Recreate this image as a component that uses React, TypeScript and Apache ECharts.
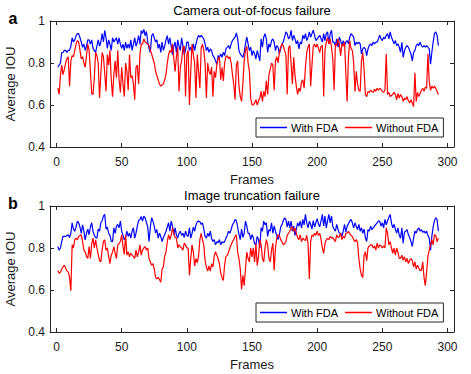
import React, { useEffect, useRef } from "react";
import * as echarts from "echarts";

const frameTicks = [0, 50, 100, 150, 200, 250, 300];
const iouTicks = [0.4, 0.6, 0.8, 1];
const seriesNames = ["With FDA", "Without FDA"];
const panelTitles = ["Camera out-of-focus failure", "Image truncation failure"];
const panelLetters = ["a", "b"];
const xLabel = "Frames";
const yLabel = "Average IOU";

// Panel a: camera out-of-focus failure (frames 1..293)
const focusWithFDA = [
  .78,.79,.80,.85,.85,.86,.86,.85,.86,.86,
  .88,.92,.90,.91,.93,.94,.94,.92,.90,.875,
  .89,.86,.88,.91,.91,.89,.91,.87,.86,.85,
  .88,.91,.88,.90,.94,.90,.955,.92,.87,.91,
  .89,.86,.92,.90,.91,.92,.89,.92,.89,.87,
  .89,.86,.90,.87,.89,.87,.91,.86,.89,.92,
  .88,.90,.93,.89,.955,.94,.96,.93,.95,.90,
  .87,.85,.93,.94,.92,.90,.91,.87,.89,.85,
  .90,.86,.88,.91,.93,.89,.92,.88,.84,.88,
  .90,.85,.91,.88,.86,.92,.88,.84,.86,.90,
  .899,.859,.875,.851,.891,.859,.891,.915,.932,.923,
  .932,.923,.915,.891,.859,.875,.851,.867,.859,.835,
  .827,.81,.794,.835,.827,.843,.827,.851,.835,.867,
  .875,.883,.867,.891,.907,.915,.923,.943,.915,.859,
  .843,.835,.827,.851,.891,.923,.891,.859,.875,.835,
  .859,.843,.819,.859,.835,.81,.915,.875,.923,.94,
  .915,.851,.891,.875,.907,.915,.899,.859,.883,.875,
  .843,.867,.891,.899,.923,.948,.94,.915,.923,.956,
  .907,.932,.915,.891,.907,.867,.899,.891,.932,.915,
  .94,.907,.923,.948,.923,.94,.956,.932,.907,.915,
  .923,.932,
  .915,.90,.94,.907,.94,.948,.891,.94,.956,.899,
  .899,.883,.915,.875,.923,.907,.883,.907,.883,.899,
  .907,.891,.923,.94,.932,.923,.883,.899,.891,.899,
  .891,.843,.867,.875,.867,.835,.867,.883,.891,.883,
  .899,.891,.899,.899,.915,.932,.915,.907,.923,.915,
  .932,.94,.915,.948,.923,.907,.891,.907,.883,.891,
  .875,.851,.899,.827,.859,.875,.883,.875,.859,.843,
  .81,.851,.859,.883,.891,.883,.899,.883,.875,.883,
  .875,.883,.875,.867,.794,.851,.899,.94,.948,.932,
  .883,
];
const focusWithoutFDA = [
  .68,.65,.74,.79,.745,.77,.80,.82,.83,.69,
  .81,.835,.83,.86,.89,.907,.90,.86,.82,.83,
  .80,.78,.835,.89,.86,.76,.655,.65,.73,.85,
  .835,.80,.633,.745,.85,.83,.75,.665,.84,.79,
  .86,.72,.64,.745,.81,.73,.86,.72,.66,.78,
  .70,.64,.80,.76,.67,.84,.73,.74,.70,.625,
  .78,.79,.70,.84,.89,.89,.915,.90,.895,.89,
  .883,.86,.843,.82,.80,.762,.74,.72,.70,.69,
  .695,.70,.72,.746,.80,.84,.86,.85,.89,.82,
  .76,.83,.875,.665,.78,.81,.875,.88,.64,.84,
  .86,.60,.76,.89,.84,.80,.633,.84,.76,.68,
  .87,.89,.86,.80,.633,.80,.76,.745,.78,.64,
  .76,.73,.79,.82,.83,.72,.78,.715,.80,.83,
  .835,.82,.83,.80,.745,.70,.625,.79,.81,.69,
  .64,.617,.70,.81,.86,.88,.80,.76,.633,.60,
  .60,.61,.625,.60,.62,.633,.665,.617,.665,.64,
  .715,.65,.745,.77,.80,.79,.67,.81,.83,.80,
  .85,.875,.89,.883,.86,.84,.65,.87,.883,.80,
  .70,.827,.74,.69,.65,.68,.665,.71,.72,.68,
  .78,.85,.875,.89,.69,.79,.88,.89,.875,.89,
  .87,.85,
  .88,.883,.64,.86,.90,.92,.89,.915,.875,.82,
  .67,.89,.883,.915,.89,.835,.89,.88,.90,.75,
  .617,.827,.907,.867,.86,.80,.665,.76,.70,.67,
  .665,.81,.85,.77,.65,.64,.665,.66,.67,.665,
  .66,.675,.665,.68,.67,.68,.673,.665,.66,.67,
  .843,.65,.66,.64,.645,.65,.66,.65,.625,.655,
  .633,.65,.64,.617,.633,.625,.64,.62,.61,.625,
  .61,.593,.754,.617,.66,.64,.655,.67,.68,.665,
  .685,.68,.843,.71,.67,.69,.68,.69,.68,.665,
  .65,
];

// Panel b: image truncation failure (frames 1..293)
const truncWithFDA = [
  .807,.79,.80,.83,.855,.855,.855,.86,.863,.85,
  .87,.92,.89,.88,.90,.928,.92,.90,.87,.91,
  .88,.839,.87,.89,.863,.90,.92,.88,.86,.85,
  .847,.89,.88,.92,.93,.952,.96,.89,.90,.87,
  .86,.831,.83,.896,.87,.904,.912,.896,.928,.88,
  .86,.839,.85,.88,.855,.871,.847,.88,.896,.847,
  .871,.904,.93,.936,.95,.928,.952,.944,.92,.90,
  .831,.90,.944,.928,.904,.871,.888,.847,.871,.855,
  .831,.85,.863,.88,.90,.92,.88,.928,.904,.863,
  .896,.863,.847,.87,.88,.86,.87,.85,.88,.86,
  .855,.896,.847,.87,.90,.88,.91,.925,.928,.925,
  .912,.92,.89,.855,.847,.87,.855,.88,.845,.831,
  .84,.815,.83,.825,.84,.815,.83,.825,.83,.847,
  .86,.88,.87,.888,.91,.92,.936,.93,.90,.865,
  .84,.89,.85,.87,.928,.905,.87,.87,.84,.863,
  .85,.82,.815,.855,.84,.80,.896,.88,.928,.91,
  .92,.855,.888,.88,.92,.87,.905,.88,.86,.84,
  .863,.90,.91,.93,.944,.936,.90,.928,.896,.928,
  .88,.904,.86,.89,.92,.904,.928,.896,.936,.91,
  .96,.92,.896,.928,.912,.89,.93,.90,.92,.94,
  .915,.90,
  .93,.96,.905,.952,.896,.93,.96,.92,.952,.904,
  .89,.88,.912,.888,.871,.87,.855,.88,.912,.875,
  .904,.915,.928,.936,.92,.896,.92,.904,.888,.912,
  .88,.896,.87,.89,.85,.831,.888,.88,.904,.888,
  .896,.904,.912,.92,.928,.928,.904,.92,.896,.936,
  .91,.93,.945,.96,.92,.896,.912,.89,.871,.896,
  .86,.847,.896,.823,.875,.88,.888,.863,.85,.83,
  .807,.847,.88,.871,.888,.896,.88,.888,.875,.88,
  .871,.88,.86,.847,.79,.855,.90,.93,.944,.936,
  .88,
];
const truncWithoutFDA = [
  .693,.68,.685,.70,.71,.718,.705,.69,.685,.66,
  .596,.815,.80,.84,.847,.839,.855,.86,.863,.83,
  .79,.782,.76,.75,.807,.75,.82,.847,.80,.839,
  .80,.77,.74,.734,.79,.831,.839,.79,.80,.76,
  .726,.766,.78,.807,.775,.75,.815,.82,.831,.863,
  .81,.77,.863,.766,.782,.758,.775,.766,.76,.75,
  .79,.758,.78,.815,.766,.79,.80,.807,.79,.80,
  .75,.734,.718,.726,.70,.66,.653,.66,.65,.637,
  .70,.71,.76,.78,.83,.863,.84,.86,.896,.87,
  .85,.847,.80,.815,.807,.80,.79,.823,.815,.80,
  .80,.67,.75,.815,.78,.715,.75,.73,.76,.84,
  .87,.84,.815,.74,.71,.69,.715,.69,.725,.71,
  .76,.782,.765,.75,.725,.68,.66,.645,.72,.76,
  .765,.78,.80,.815,.83,.84,.855,.863,.78,.75,
  .70,.604,.67,.62,.70,.78,.75,.734,.80,.758,
  .80,.734,.82,.717,.758,.84,.815,.75,.734,.80,
  .84,.815,.75,.734,.79,.823,.693,.80,.847,.863,
  .86,.84,.83,.815,.82,.83,.86,.87,.88,.895,
  .90,.88,.895,.87,.85,.84,.863,.83,.847,.84,
  .835,.86,.82,.653,.83,.863,.855,.87,.86,.88,
  .86,.87,
  .84,.80,.775,.82,.84,.845,.84,.855,.847,.85,
  .84,.83,.863,.85,.855,.87,.84,.855,.847,.87,
  .87,.88,.87,.86,.855,.84,.83,.84,.825,.75,
  .70,.67,.66,.766,.782,.74,.80,.81,.815,.815,
  .80,.81,.79,.823,.80,.815,.81,.80,.81,.80,
  .896,.871,.815,.83,.80,.775,.80,.766,.80,.78,
  .75,.75,.766,.742,.758,.734,.75,.726,.742,.75,
  .74,.71,.734,.70,.718,.705,.693,.693,.734,.66,
  .621,.685,.76,.79,.815,.84,.815,.863,.86,.83,
  .847,
];

const panels = [
  { withFDA: focusWithFDA, withoutFDA: focusWithoutFDA },
  { withFDA: truncWithFDA, withoutFDA: truncWithoutFDA },
];

const toPairs = (arr: number[]) => arr.map((v, i) => [i + 1, v]);

export default function App() {
  const ref = useRef<HTMLDivElement>(null);

  useEffect(() => {
    if (!ref.current) return;
    const chart = echarts.init(ref.current, undefined, { renderer: "svg" });
    const FONT = '"Liberation Sans", Arial, Helvetica, sans-serif';
    const AX = "#262626";
    const LEFT = 50;
    const WIDTH = 404;
    const HEIGHT = 126;
    const tops = [21, 206];
    const colors = ["#0000ff", "#ff0000"];

    const grid: any[] = [];
    const xAxis: any[] = [];
    const yAxis: any[] = [];
    const series: any[] = [];
    const legend: any[] = [];
    const graphic: any[] = [];

    tops.forEach((top, g) => {
      grid.push({ left: LEFT, top, width: WIDTH, height: HEIGHT, outerBoundsMode: "none" });
      const xBase = {
        gridIndex: g,
        type: "value",
        min: -5,
        max: 305,
        splitLine: { show: false },
        axisLine: { show: true, onZero: false, lineStyle: { color: AX, width: 1 } },
        axisTick: { show: true, inside: true, length: 4, customValues: frameTicks, lineStyle: { color: AX, width: 1 } },
      };
      xAxis.push({
        ...xBase,
        position: "bottom",
        axisLabel: { show: true, customValues: frameTicks, margin: 9, fontSize: 12, color: "#1a1a1a", fontFamily: FONT },
        name: xLabel,
        nameLocation: "middle",
        nameGap: 26,
        nameTextStyle: { fontSize: 13, color: "#1a1a1a", fontFamily: FONT },
      });
      xAxis.push({ ...xBase, position: "top", axisLabel: { show: false } });
      const yBase = {
        gridIndex: g,
        type: "value",
        min: 0.4,
        max: 1,
        interval: 0.2,
        splitLine: { show: false },
        axisLine: { show: true, onZero: false, lineStyle: { color: AX, width: 1 } },
        axisTick: { show: true, inside: true, length: 4, lineStyle: { color: AX, width: 1 } },
      };
      yAxis.push({
        ...yBase,
        position: "left",
        axisLabel: {
          show: true,
          margin: 5,
          fontSize: 12,
          color: "#1a1a1a",
          fontFamily: FONT,
          customValues: iouTicks,
          formatter: (v: number) => String(Number(v.toFixed(1))),
        },
        name: yLabel,
        nameLocation: "middle",
        nameGap: 20,
        nameRotate: 90,
        nameTextStyle: { fontSize: 13, color: "#1a1a1a", fontFamily: FONT },
      });
      yAxis.push({ ...yBase, position: "right", axisLabel: { show: false } });

      const p = panels[g];
      [p.withFDA, p.withoutFDA].forEach((arr, k) => {
        series.push({
          name: seriesNames[k],
          type: "line",
          xAxisIndex: 2 * g,
          yAxisIndex: 2 * g,
          data: toPairs(arr),
          symbol: "none",
          showSymbol: false,
          lineStyle: { color: colors[k], width: 1.2 },
          itemStyle: { color: colors[k] },
          emphasis: { disabled: true },
          z: 2 + k,
        });
      });

      legend.push({
        data: seriesNames,
        left: 256,
        top: top + 97,
        orient: "horizontal",
        icon: "rect",
        itemWidth: 27,
        itemHeight: 1.5,
        itemGap: 7,
        padding: [4, 5, 4, 4],
        borderColor: AX,
        borderWidth: 1,
        backgroundColor: "#fff",
        selectedMode: false,
        textStyle: { fontSize: 11, color: "#000", fontFamily: FONT, padding: [0, 0, 0, -1] },
      });

      graphic.push({
        type: "text",
        x: LEFT + WIDTH / 2,
        y: top - 11,
        style: {
          text: panelTitles[g],
          font: `13px ${FONT}`,
          fill: "#000",
          textAlign: "center",
          textVerticalAlign: "middle",
        },
      });
      graphic.push({
        type: "text",
        x: 13,
        y: top - 3,
        style: {
          text: panelLetters[g],
          font: `bold 16px ${FONT}`,
          fill: "#000",
          textAlign: "center",
          textVerticalAlign: "middle",
        },
      });
    });

    chart.setOption({
      animation: false,
      backgroundColor: "#fff",
      grid,
      xAxis,
      yAxis,
      series,
      legend,
      graphic,
    });
    return () => chart.dispose();
  }, []);

  return (
    <div
      ref={ref}
      style={{ position: "fixed", left: 0, top: 0, width: 471, height: 374, background: "#fff" }}
    />
  );
}
